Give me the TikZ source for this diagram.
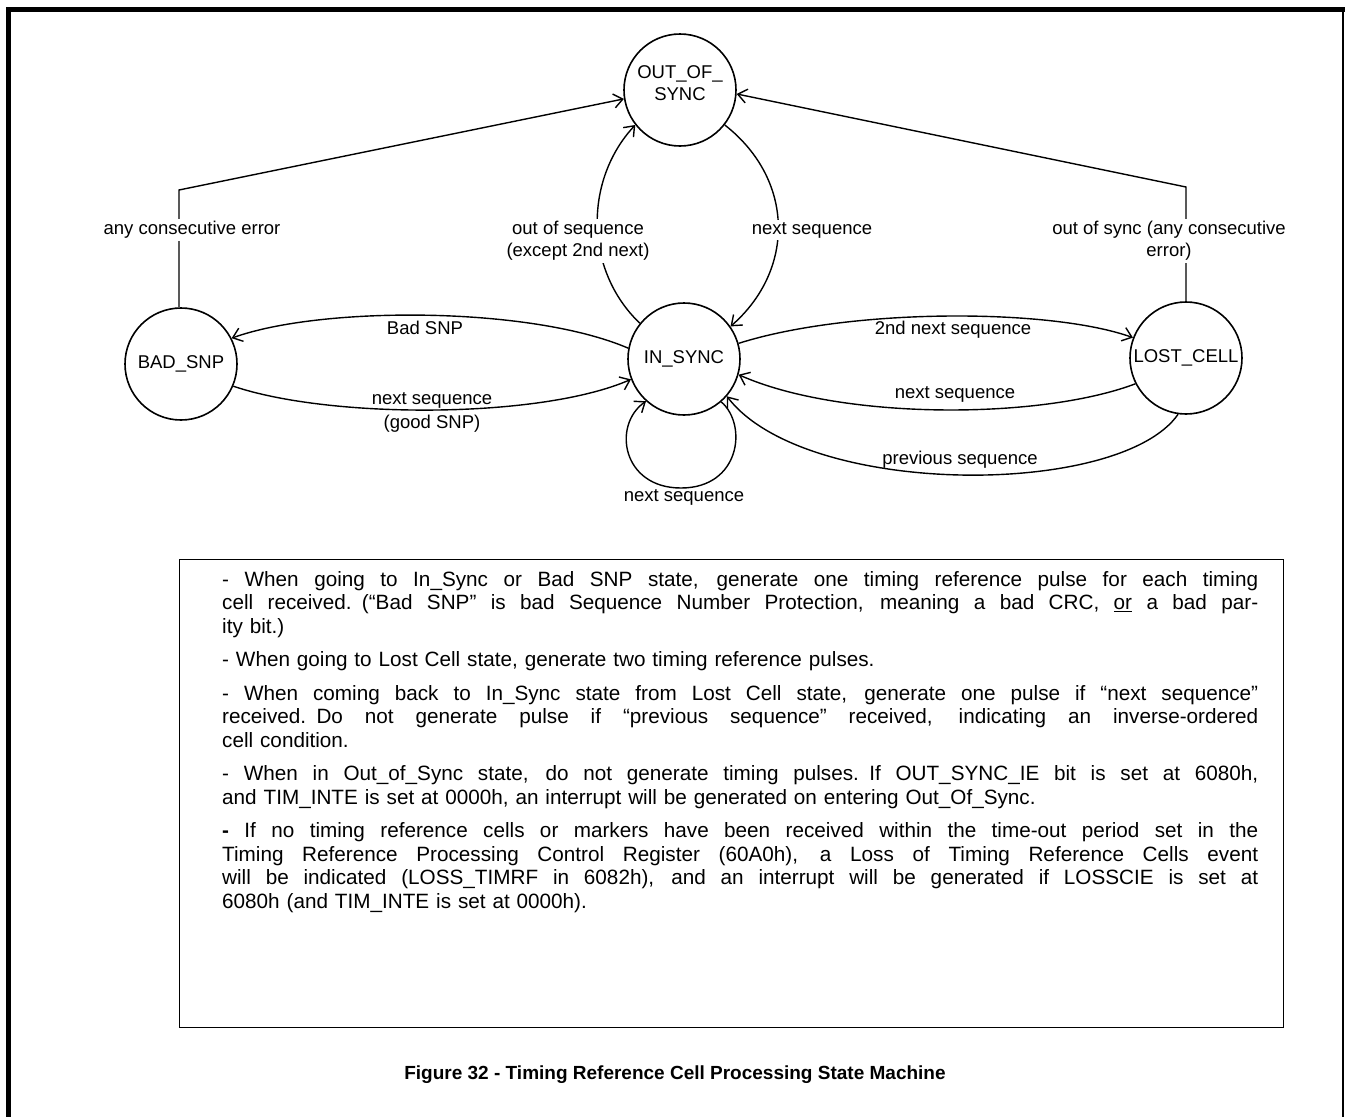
\documentclass[tikz,border=0pt]{standalone}
\usepackage{fontspec}
\setmainfont{Liberation Sans}
\usetikzlibrary{arrows.meta}
\newcommand\lblfont{\fontsize{18.5}{22}\selectfont}
\newcommand\bodyfont{\fontsize{20.7}{23.5}\selectfont}
\newcommand\jl[1]{\makebox[1036pt][s]{\spaceskip=0.278em plus 1fil minus 0.1em\relax #1}}
\begin{document}
\begin{tikzpicture}[x=1pt,y=-1pt,
  state/.style={circle,draw,line width=1.6pt,minimum size=112pt,inner sep=0pt,font=\lblfont,align=center},
  arr/.style={line width=1.4pt,-{Straight Barb[length=9pt,width=14pt,line width=1.4pt]}},
  lab/.style={font=\lblfont,align=center,inner sep=1pt},
  labw/.style={lab,fill=white,inner sep=2pt}]
\useasboundingbox (0,0) rectangle (1345,1117);
% frame
\draw[line width=5.5pt] (6,9.5) -- (1345,9.5);
\draw[line width=5pt] (8.5,7) -- (8.5,1117);
\draw[line width=2pt] (1342.5,12) -- (1342.5,1117);
% states
\node[state] (out) at (680,90) {};
\node[lab] (outt) at (680,83) {OUT\_OF\_\\SYNC};
\node[state] (bad) at (181,364) {BAD\_SNP};
\node[state] (ins) at (684,359) {IN\_SYNC};
\node[state] (lost) at (1186,358) {LOST\_CELL};
% corners
\coordinate (lk) at (179,190);
\coordinate (rk) at (1186,187);
% connectors
\draw[arr] (bad.92) -- (lk) -- (out.189);
\draw[arr] (lost.north) -- (rk) -- (out.356);
\draw[arr] (ins.141) .. controls (584,270) and (584,180) .. (out.218);
\draw[arr] (out.322) .. controls (795,180) and (795,270) .. (ins.35);
\draw[arr] (ins.169) .. controls (530,306) and (320,306) .. (bad.27);
\draw[arr] (bad.337) .. controls (330,419) and (540,419) .. (ins.201);
\draw[arr] (ins.16) .. controls (850,308) and (1050,308) .. (lost.159);
\draw[arr] (lost.207) .. controls (1040,420) and (840,420) .. (ins.344);
\draw[arr] (lost.262) .. controls (1120,498) and (805,498) .. (ins.319);
\draw[arr] (ins.311) .. controls (748,425) and (740,488) .. (681,488)
                     .. controls (622,488) and (612,425) .. (ins.228);
% labels
\node[labw] (l1) at (192,230) {any consecutive error};
\node[labw] (l2) at (1169,241) {out of sync (any consecutive\\error)};
\node[labw] (l3) at (578,241) {out of sequence\\(except 2nd next)};
\node[labw] (l4) at (812,230) {next sequence};
\node[lab] (l5) at (425,328) {Bad SNP};
\node[lab,font=\fontsize{18.5}{24}\selectfont] (l6) at (432,412) {next sequence\\(good SNP)};
\node[lab] (l7) at (953,330) {2nd next sequence};
\node[lab] (l8) at (955,394) {next sequence};
\node[lab] (l9) at (960,460) {previous sequence};
\node[lab] (l10) at (684,497) {next sequence};
% text box
\node[draw,line width=1.3pt,minimum width=1104pt,minimum height=468pt,anchor=north west,inner sep=0pt] (box) at (179,559) {};
\node[anchor=north west,inner sep=0pt,text width=1036pt,align=left,font=\bodyfont] (txt) at (222,571) {%
\jl{- When going to In\_Sync or Bad SNP state, generate one timing reference pulse for each timing}\\
\jl{cell received. (“Bad SNP” is bad Sequence Number Protection, meaning a bad CRC, \underline{or} a bad par-}\\
ity bit.)\\[10pt]
- When going to Lost Cell state, generate two timing reference pulses.\\[10pt]
\jl{- When coming back to In\_Sync state from Lost Cell state, generate one pulse if “next sequence”}\\
\jl{received. Do not generate pulse if “previous sequence” received, indicating an inverse-ordered}\\
cell condition.\\[10pt]
\jl{- When in Out\_of\_Sync state, do not generate timing pulses. If OUT\_SYNC\_IE bit is set at 6080h,}\\
and TIM\_INTE is set at 0000h, an interrupt will be generated on entering Out\_Of\_Sync.\\[10pt]
\jl{\textbf{-} If no timing reference cells or markers have been received within the time-out period set in the}\\
\jl{Timing Reference Processing Control Register (60A0h), a Loss of Timing Reference Cells event}\\
\jl{will be indicated (LOSS\_TIMRF in 6082h), and an interrupt will be generated if LOSSCIE is set at}\\
6080h (and TIM\_INTE is set at 0000h).};
% title
\node[font=\bfseries\fontsize{19}{22}\selectfont] (title) at (675,1075) {Figure 32 - Timing Reference Cell Processing State Machine};
\end{tikzpicture}
\end{document}
